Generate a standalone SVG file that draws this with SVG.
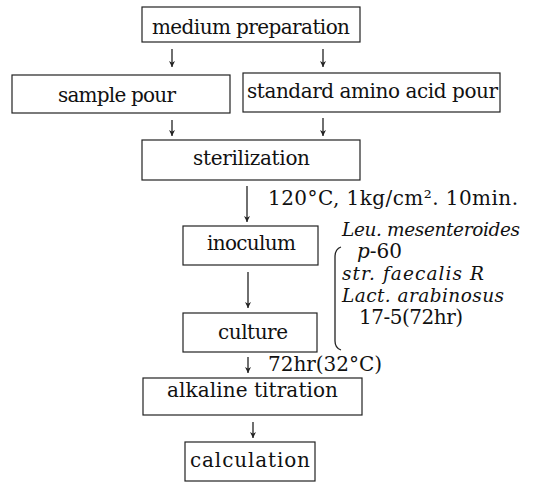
<svg xmlns="http://www.w3.org/2000/svg" width="542" height="483" viewBox="0 0 542 483">
<style>
.box{fill:none;stroke:#222;stroke-width:1.2}
.t{font-family:"DejaVu Serif","Liberation Serif",serif;font-size:20px;fill:#111}
.i{font-family:"DejaVu Serif","Liberation Serif",serif;font-size:18.5px;font-style:italic;fill:#111}
.c{stroke:#222;stroke-width:1.3;fill:none}
</style>
<defs>
<marker id="ah" viewBox="0 0 10 10" refX="10" refY="5" markerWidth="7" markerHeight="6" markerUnits="userSpaceOnUse" orient="auto">
<path d="M0,0 L10,5 L0,10 L3,5 Z" fill="#222"/>
</marker>
</defs>
<rect width="542" height="483" fill="#fff"/>
<g id="connectors">
<line class="c" x1="172" y1="49" x2="172" y2="67" marker-end="url(#ah)"/>
<line class="c" x1="323" y1="49" x2="323" y2="67" marker-end="url(#ah)"/>
<line class="c" x1="172" y1="120" x2="172" y2="136" marker-end="url(#ah)"/>
<line class="c" x1="323" y1="118" x2="323" y2="136" marker-end="url(#ah)"/>
<line class="c" x1="247" y1="186" x2="247" y2="222" marker-end="url(#ah)"/>
<line class="c" x1="248" y1="272" x2="248" y2="308" marker-end="url(#ah)"/>
<line class="c" x1="248" y1="357" x2="248" y2="373" marker-end="url(#ah)"/>
<line class="c" x1="253" y1="422" x2="253" y2="438" marker-end="url(#ah)"/>
<path class="c" d="M341,247 Q335,249 335,257 L335,341 Q335,348 341,350"/>
</g>
<g id="n-medium">
<rect class="box" x="142" y="7" width="218" height="35"/>
<text class="t" x="152" y="34" textLength="198" lengthAdjust="spacing">medium preparation</text>
</g>
<g id="n-sample">
<rect class="box" x="12" y="75" width="218" height="38"/>
<text class="t" x="58" y="102" textLength="118" lengthAdjust="spacing">sample pour</text>
</g>
<g id="n-standard">
<rect class="box" x="243" y="73" width="257" height="39"/>
<text class="t" x="247" y="98" textLength="251" lengthAdjust="spacing">standard amino acid pour</text>
</g>
<g id="n-sterilization">
<rect class="box" x="142" y="140" width="218" height="40"/>
<text class="t" x="193" y="165" textLength="117" lengthAdjust="spacing">sterilization</text>
<text class="t" x="268" y="205" textLength="250" lengthAdjust="spacing">120°C, 1kg/cm². 10min.</text>
</g>
<g id="n-inoculum">
<rect class="box" x="183" y="226" width="135" height="39"/>
<text class="t" x="207" y="250" textLength="89" lengthAdjust="spacing">inoculum</text>
</g>
<g id="n-strains">
<text class="i" x="342" y="236" textLength="178" lengthAdjust="spacing">Leu. mesenteroides</text>
<text class="t" x="357" y="258"><tspan font-style="italic">p</tspan>-60</text>
<text class="i" x="342" y="280" textLength="142" lengthAdjust="spacing">str. faecalis R</text>
<text class="i" x="342" y="302" textLength="162" lengthAdjust="spacing">Lact. arabinosus</text>
<text class="t" x="359" y="324" textLength="104" lengthAdjust="spacing">17-5(72hr)</text>
</g>
<g id="n-culture">
<rect class="box" x="183" y="313" width="134" height="39"/>
<text class="t" x="218" y="339" textLength="70" lengthAdjust="spacing">culture</text>
<text class="t" x="268" y="371" textLength="114" lengthAdjust="spacing">72hr(32°C)</text>
</g>
<g id="n-alkaline">
<rect class="box" x="143" y="378" width="219" height="37"/>
<text class="t" x="167" y="397" textLength="171" lengthAdjust="spacing">alkaline titration</text>
</g>
<g id="n-calculation">
<rect class="box" x="185" y="442" width="130" height="39"/>
<text class="t" x="190" y="467" textLength="120" lengthAdjust="spacing">calculation</text>
</g>
</svg>
